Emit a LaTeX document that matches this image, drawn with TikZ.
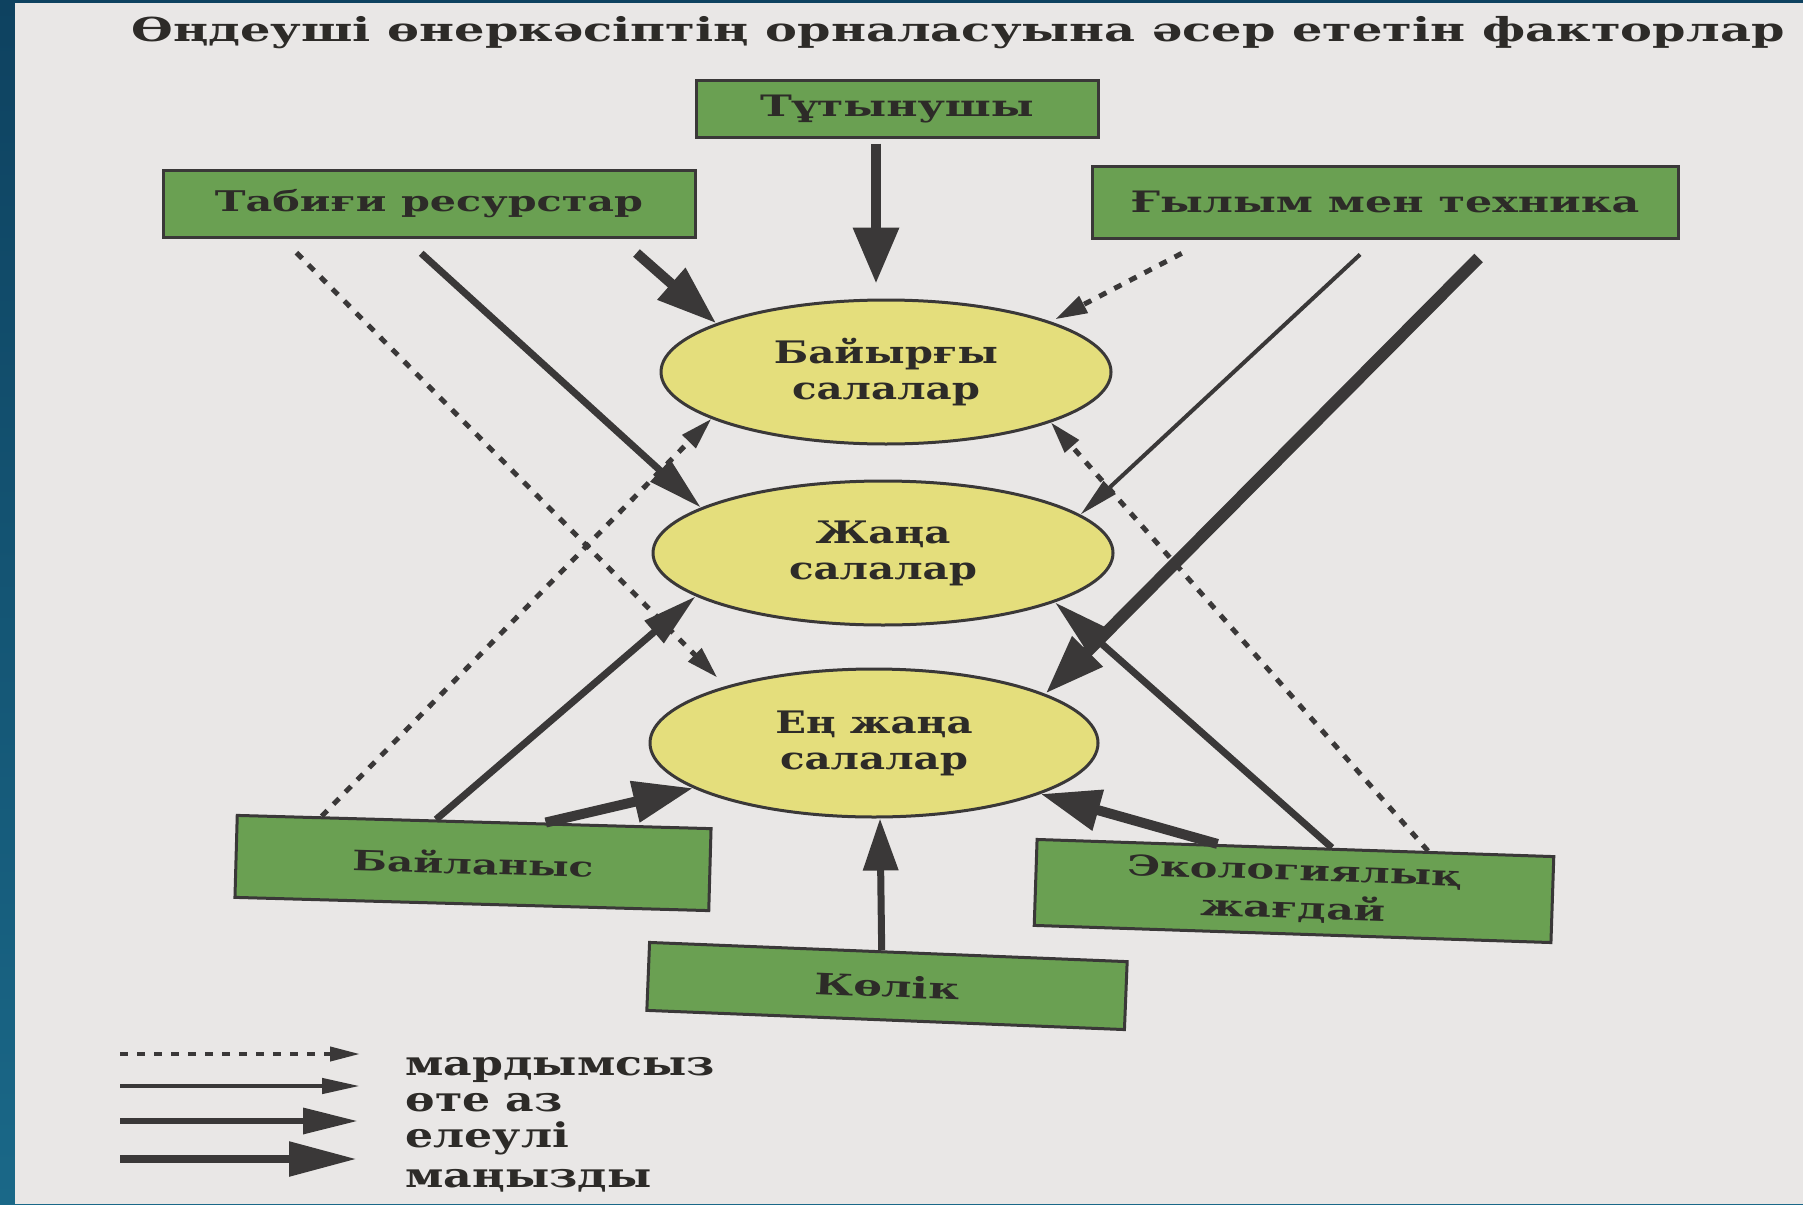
\documentclass[tikz,border=0pt]{standalone}
\usepackage{fontspec}
\usetikzlibrary{arrows.meta,shapes.geometric,calc}
\newfontfamily\kz[FakeStretch=1.3]{DejaVu Serif}
\newfontfamily\kzw[FakeStretch=1.45]{DejaVu Serif}
\definecolor{paper}{RGB}{233,231,230}
\definecolor{boxgreen}{RGB}{106,160,82}
\definecolor{ellyellow}{RGB}{228,222,124}
\definecolor{ink}{RGB}{58,56,56}
\definecolor{txt}{RGB}{45,43,40}
\definecolor{bluetop}{RGB}{14,66,96}
\definecolor{bluebot}{RGB}{26,104,136}
\begin{document}
\begin{tikzpicture}[x=1pt,y=-1pt,
  fbox/.style={draw=ink,line width=3pt,fill=boxgreen,inner sep=0pt,text=txt,align=center,font=\kzw\bfseries\fontsize{29.5}{38}\selectfont},
  fell/.style={ellipse,draw=ink,line width=3pt,fill=ellyellow,inner sep=0pt,text=txt,align=center,font=\kz\bfseries\fontsize{31}{36}\selectfont},
  con/.style={draw=ink,line cap=butt},
  dotarrow/.style={con,line width=5pt,dash pattern=on 8pt off 9pt,-{Triangle[length=32pt,width=18pt]}},
  thinarrow/.style={con,line width=4pt,-{Triangle[length=40pt,width=17pt]}},
  midarrow/.style={con,line width=7pt,-{Triangle[length=55pt,width=28pt]}},
  bigarrow/.style={con,line width=10pt,-{Triangle[length=60pt,width=40pt]}},
  leg/.style={anchor=base west,text=txt,font=\kz\bfseries\fontsize{34}{38}\selectfont},
]
\useasboundingbox (0,0) rectangle (1803,1204);
\shade[top color=bluetop,bottom color=bluebot] (0,0) rectangle (1803,1204);
\fill[paper] (15,3) rectangle (1803,1204);

% title
\node[anchor=base,text=txt,font=\kzw\bfseries\fontsize{33}{38}\selectfont] (title) at (958,42) {Өңдеуші өнеркәсіптің орналасуына әсер ететін факторлар};

% factor boxes
\node[fbox,minimum width=402pt,minimum height=56pt] (tut) at (897,109) {Тұтынушы};
\node[fbox,minimum width=532pt,minimum height=67pt] (tab) at (429,203.5) {\fontsize{28.5}{36}\selectfont Табиғи ресурстар};
\node[fbox,minimum width=586pt,minimum height=72pt] (gyl) at (1385,202) {Ғылым мен техника};
\node[fbox,minimum width=474pt,minimum height=82pt,rotate=-1.6] (bln) at (473,863) {\fontsize{28}{36}\selectfont Байланыс};
\node[fbox,minimum width=517pt,minimum height=86pt,rotate=-1.9] (eko) at (1294,891) {\fontsize{28.5}{38}\selectfont Экологиялық\\жағдай};
\node[fbox,minimum width=478pt,minimum height=68pt,rotate=-2.3] (kol) at (887,986) {Көлік};

% branch ellipses
\node[fell,minimum width=450pt,minimum height=144pt] (bay) at (886,372) {Байырғы\\салалар};
\node[fell,minimum width=460pt,minimum height=144pt] (jan) at (883,553) {Жаңа\\салалар};
\node[fell,minimum width=448pt,minimum height=148pt] (enj) at (874,743) {Ең жаңа\\салалар};

% Тұтынушы
\draw[bigarrow,-{Triangle[length=56pt,width=44pt]},shorten <=5pt,shorten >=15pt] ($(bay.north |- tut.south)+(-10,0)$) -- ($(bay.north)+(-10,0)$);
% Табиғи ресурстар
\draw[dotarrow,shorten <=20pt,shorten >=12pt] ($(tab.south west)!0.226!(tab.south east)$) -- (enj.159.5);
\draw[midarrow,shorten <=22pt] ($(tab.south west)!0.455!(tab.south east)$) -- (jan.166.5);
\draw[bigarrow,shorten <=22pt] ($(tab.south west)!0.857!(tab.south east)$) -- (bay.164);
% Ғылым мен техника
\draw[dotarrow,shorten <=30pt,shorten >=5pt] ($(gyl.south west)!0.2!(gyl.south east)$) -- (bay.17);
\draw[thinarrow,shorten <=22pt] ($(gyl.south west)!0.485!(gyl.south east)$) -- (jan.11.4);
\draw[bigarrow,line width=12pt,shorten <=26pt] ($(gyl.south west)!0.69!(gyl.south east)$) -- (enj.16.6);
% Байланыс
\draw[dotarrow] ($(bln.north west)!0.18!(bln.north east)$) -- (bay.195);
\draw[midarrow] ($(bln.north west)!0.42!(bln.north east)$) -- (jan.193.3);
\draw[bigarrow] ($(bln.north west)!0.65!(bln.north east)$) -- (enj.194.5);
% Экологиялық жағдай
\draw[bigarrow] ($(eko.north west)!0.35!(eko.north east)$) -- (enj.-17.9);
\draw[midarrow] ($(eko.north west)!0.57!(eko.north east)$) -- (jan.-16.3);
\draw[dotarrow] ($(eko.north west)!0.755!(eko.north east)$) -- (bay.-17);
% Көлік
\draw[midarrow,-{Triangle[length=52pt,width=34pt]}] ($(kol.north west)!0.486!(kol.north east)$) -- ($(enj.south)+(6,0)$);

% legend
\coordinate (d0) at (120,1054); \coordinate (d1) at (360,1054);
\coordinate (t0) at (120,1086); \coordinate (t1) at (360,1086);
\coordinate (e0) at (120,1121); \coordinate (e1) at (358,1121);
\coordinate (m0) at (120,1159); \coordinate (m1) at (357,1159);
\draw[dotarrow,line width=4pt,-{Triangle[length=30pt,width=14pt]}] (d0) -- (d1);
\draw[thinarrow,line width=4.5pt,-{Triangle[length=38pt,width=15pt]}] (t0) -- (t1);
\draw[midarrow,line width=6.5pt,-{Triangle[length=55pt,width=25pt]}] (e0) -- (e1);
\draw[bigarrow,line width=8.7pt,-{Triangle[length=68pt,width=33pt]}] (m0) -- (m1);
\node[leg] (lg1) at (402,1075) {мардымсыз};
\node[leg] (lg2) at (402,1111) {өте аз};
\node[leg] (lg3) at (402,1147) {елеулі};
\node[leg] (lg4) at (402,1187) {маңызды};
\end{tikzpicture}
\end{document}
